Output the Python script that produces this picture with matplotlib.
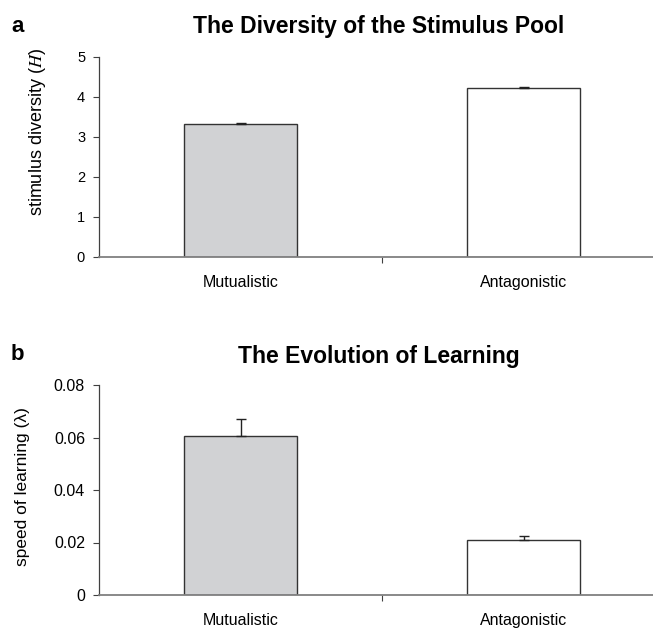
import matplotlib
matplotlib.use("Agg")
import matplotlib.pyplot as plt
import numpy as np

plt.rcParams['font.family'] = ['Liberation Sans', 'DejaVu Sans']
plt.rcParams['mathtext.fontset'] = 'stix'

categories = ["Mutualistic", "Antagonistic"]
diversity = [3.33, 4.22]
diversity_err = [0.03, 0.03]
learning = [0.0606, 0.021]
learning_err = [0.0063, 0.0015]
colors = ["#d1d2d4", "#ffffff"]

fig = plt.figure(figsize=(6.53, 6.30), dpi=100)

def style(ax, yticks, yticklabels, tick_fs):
    for s in ["top", "right"]:
        ax.spines[s].set_visible(False)
    ax.spines["left"].set_color("#404040")
    ax.spines["left"].set_linewidth(0.9)
    ax.spines["bottom"].set_color("#808080")
    ax.spines["bottom"].set_linewidth(1.3)
    ax.set_xlim(-0.5, 1.5)
    ax.set_xticks([0, 1])
    ax.set_xticklabels(categories, fontsize=11.5)
    ax.set_xticks([0.5], minor=True)
    ax.tick_params(axis="x", which="major", length=0, pad=13)
    ax.tick_params(axis="x", which="minor", length=4, width=0.8, color="#404040")
    ax.set_yticks(yticks)
    ax.set_yticklabels(yticklabels, fontsize=tick_fs)
    ax.tick_params(axis="y", length=4, width=0.8, color="#404040", pad=6)

# Panel a
ax1 = fig.add_axes([99/653, 373/630, 566/653, 200/630])
x = np.arange(len(categories))
ax1.bar(x, diversity, width=0.4, color=colors, edgecolor="#333333", linewidth=1.0,
        yerr=[[0, 0], diversity_err], error_kw=dict(ecolor="#222222", elinewidth=1.0, capsize=3.5, capthick=1.0))
ax1.set_ylim(0, 5)
style(ax1, [0, 1, 2, 3, 4, 5], ["0", "1", "2", "3", "4", "5"], 10.5)
ax1.set_ylabel(r"stimulus diversity ($\mathit{H}$)", fontsize=13)
ax1.yaxis.set_label_coords(-0.09, 0.627)

# Panel b
ax2 = fig.add_axes([99/653, 35/630, 566/653, 210/630])
ax2.bar(x, learning, width=0.4, color=colors, edgecolor="#333333", linewidth=1.0,
        yerr=[[0, 0], learning_err], error_kw=dict(ecolor="#222222", elinewidth=1.0, capsize=3.5, capthick=1.0))
ax2.set_ylim(0, 0.08)
style(ax2, [0, 0.02, 0.04, 0.06, 0.08], ["0", "0.02", "0.04", "0.06", "0.08"], 11.5)
ax2.set_ylabel("speed of learning (λ)", fontsize=12.5)
ax2.yaxis.set_label_coords(-0.122, 0.517)

fig.text(379/653, 1 - 26/630, "The Diversity of the Stimulus Pool", fontsize=16.5,
         fontweight="bold", ha="center", va="center")
fig.text(379/653, 1 - 357/630, "The Evolution of Learning", fontsize=16.5,
         fontweight="bold", ha="center", va="center")
fig.text(11/653, 1 - 26/630, "a", fontsize=16, fontweight="bold", ha="left", va="center")
fig.text(11/653, 1 - 355/630, "b", fontsize=16, fontweight="bold", ha="left", va="center")

fig.savefig("out.png", dpi=100)
